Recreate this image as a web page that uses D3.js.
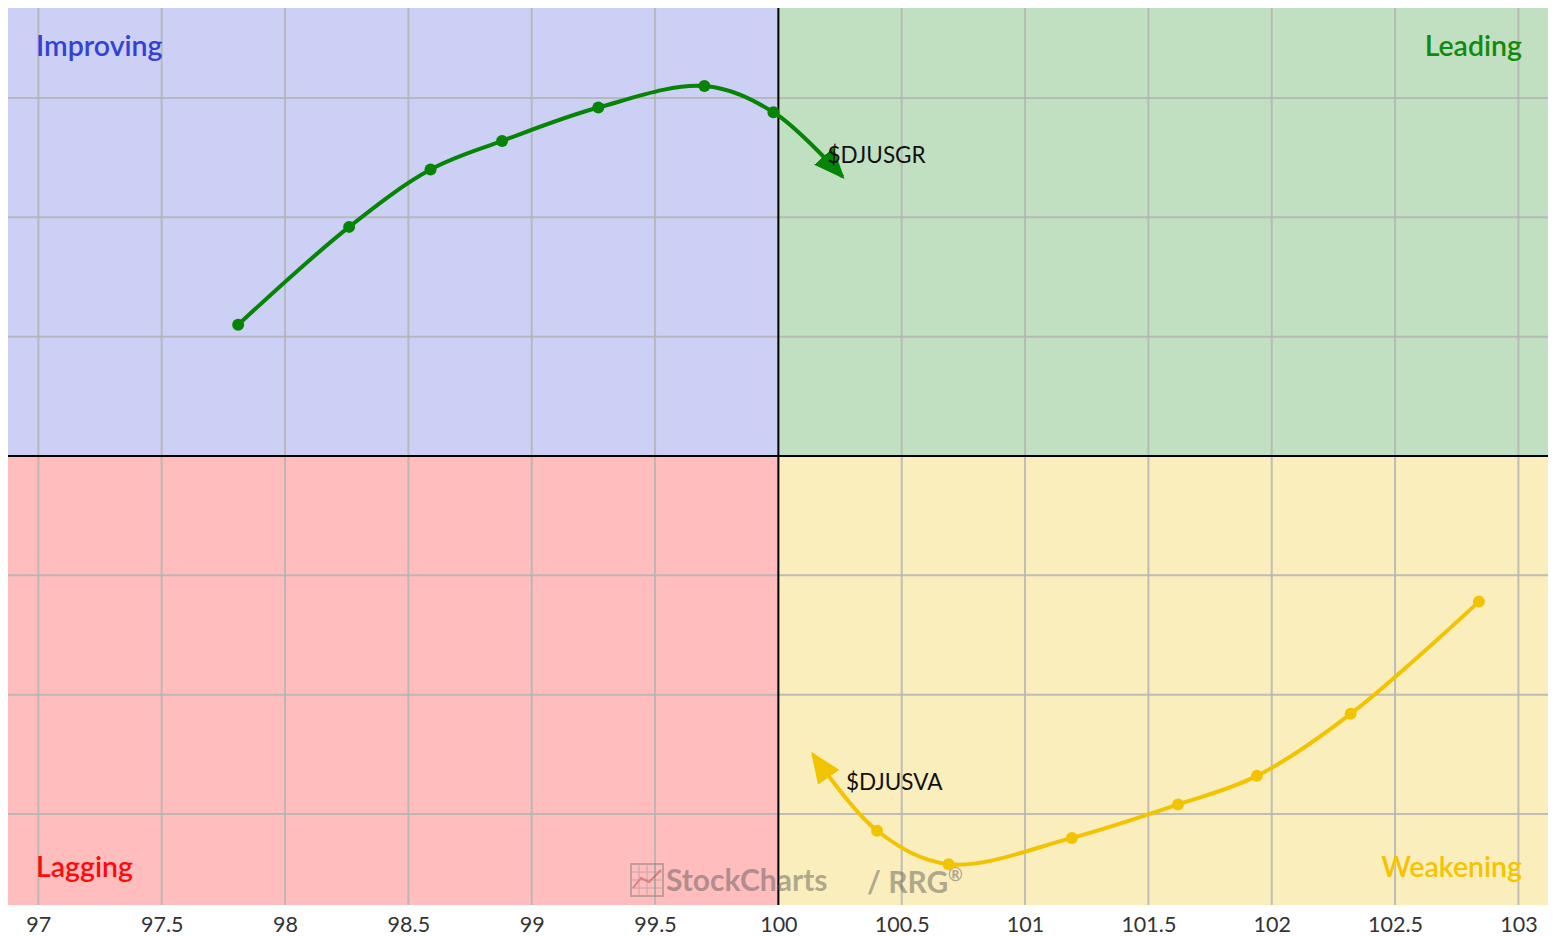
<!DOCTYPE html>
<html>
<head>
<meta charset="utf-8">
<script src="https://cdn.jsdelivr.net/npm/d3@7"></script>
<style>
  html, body { margin: 0; padding: 0; background: #fff; }
  svg { display: block; font-family: Lato, "Open Sans", sans-serif; }
  .tick text { fill: #333; }
</style>
</head>
<body>
<svg id="chart" width="1556" height="936"></svg>
<script>
(function () {
  "use strict";

  // x axis ticks (RS-Ratio)
  const xTicks = [97, 97.5, 98, 98.5, 99, 99.5, 100, 100.5, 101, 101.5, 102, 102.5, 103];
  // y gridlines (RS-Momentum), labels are not shown
  const yTicks = [98.5, 99, 99.5, 100, 100.5, 101, 101.5];

  // $DJUSGR tail, oldest first, last point is the arrow head
  const grRatio = [97.81, 98.26, 98.59, 98.88, 99.27, 99.70, 99.98, 100.26];
  const grMomentum = [100.55, 100.96, 101.20, 101.32, 101.46, 101.55, 101.44, 101.17];

  // $DJUSVA tail
  const vaRatio = [102.84, 102.32, 101.94, 101.62, 101.19, 100.69, 100.40, 100.14];
  const vaMomentum = [99.39, 98.92, 98.66, 98.54, 98.40, 98.29, 98.43, 98.75];

  const quadrantNames = ["Improving", "Leading", "Lagging", "Weakening"];

  const left = 8, right = 1548, top = 8, bottom = 905;

  const svg = d3.select("#chart");

  const x = d3.scaleLinear().domain([96.877, 103.12]).range([left, right]);
  const y = d3.scaleLinear().domain([98.119, 101.877]).range([bottom, top]);

  // quadrants
  const quads = [
    { name: quadrantNames[0], x0: x.domain()[0], x1: 100, y0: 100, y1: y.domain()[1], fill: "#cbd0f4", color: "#3341d6", anchor: "start", lx: 36, ly: 56 },
    { name: quadrantNames[1], x0: 100, x1: x.domain()[1], y0: 100, y1: y.domain()[1], fill: "#c1e0c1", color: "#108a10", anchor: "end", lx: 1522, ly: 56 },
    { name: quadrantNames[2], x0: x.domain()[0], x1: 100, y0: y.domain()[0], y1: 100, fill: "#ffbdbe", color: "#ff0a0a", anchor: "start", lx: 36, ly: 877 },
    { name: quadrantNames[3], x0: 100, x1: x.domain()[1], y0: y.domain()[0], y1: 100, fill: "#fbeebd", color: "#f5c300", anchor: "end", lx: 1522, ly: 877 }
  ];

  svg.selectAll("rect.quad")
    .data(quads)
    .enter()
    .append("rect")
    .attr("class", "quad")
    .attr("x", (d) => x(d.x0))
    .attr("y", (d) => y(d.y1))
    .attr("width", (d) => x(d.x1) - x(d.x0))
    .attr("height", (d) => y(d.y0) - y(d.y1))
    .attr("fill", (d) => d.fill);

  // grid
  const grid = svg.append("g").attr("stroke", "#b4b4b4").attr("stroke-width", 2).attr("stroke-opacity", 0.85);
  grid.selectAll("line.vx")
    .data(xTicks.filter((t) => t !== 100))
    .enter()
    .append("line")
    .attr("x1", (d) => x(d)).attr("x2", (d) => x(d))
    .attr("y1", top).attr("y2", bottom);
  grid.selectAll("line.hy")
    .data(yTicks.filter((t) => t !== 100))
    .enter()
    .append("line")
    .attr("x1", left).attr("x2", right)
    .attr("y1", (d) => y(d)).attr("y2", (d) => y(d));

  // center lines
  svg.append("line")
    .attr("x1", x(100)).attr("x2", x(100)).attr("y1", top).attr("y2", bottom)
    .attr("stroke", "#000").attr("stroke-width", 2);
  svg.append("line")
    .attr("x1", left).attr("x2", right).attr("y1", y(100)).attr("y2", y(100))
    .attr("stroke", "#000").attr("stroke-width", 2);

  // quadrant labels
  svg.selectAll("text.qlabel")
    .data(quads)
    .enter()
    .append("text")
    .attr("class", "qlabel")
    .attr("x", (d) => d.lx)
    .attr("y", (d) => d.ly)
    .attr("text-anchor", (d) => d.anchor)
    .attr("fill", (d) => d.color)
    .attr("font-size", 28.5)
    .attr("font-weight", 600)
    .text((d) => d.name);

  // watermark
  const wm = svg.append("g").attr("opacity", 0.45);
  const ix = 631, iy = 864;
  wm.append("rect").attr("x", ix).attr("y", iy).attr("width", 32).attr("height", 32)
    .attr("fill", "none").attr("stroke", "#777").attr("stroke-width", 2);
  for (let i = 1; i < 4; i++) {
    wm.append("line").attr("x1", ix + i * 8).attr("x2", ix + i * 8).attr("y1", iy).attr("y2", iy + 32)
      .attr("stroke", "#888").attr("stroke-width", 1);
    wm.append("line").attr("x1", ix).attr("x2", ix + 32).attr("y1", iy + i * 8).attr("y2", iy + i * 8)
      .attr("stroke", "#888").attr("stroke-width", 1);
  }
  wm.append("path").attr("d", `M${ix + 2},${iy + 24} L${ix + 10},${iy + 14} L${ix + 18},${iy + 18} L${ix + 30},${iy + 6}`)
    .attr("fill", "none").attr("stroke", "#c03030").attr("stroke-width", 2);
  wm.append("text").attr("x", 666).attr("y", 891)
    .attr("font-size", 30).attr("font-weight", 700).attr("fill", "#555")
    .text("StockCharts");
  wm.append("text").attr("x", 867).attr("y", 893)
    .attr("font-size", 30).attr("font-weight", 700).attr("fill", "#555")
    .text("/ RRG");
  wm.append("text").attr("x", 948).attr("y", 881)
    .attr("font-size", 18).attr("font-weight", 700).attr("fill", "#555")
    .text("®");

  // x axis
  const xAxis = d3.axisBottom(x)
    .tickValues(xTicks)
    .tickSize(0)
    .tickPadding(12)
    .tickFormat((d) => String(d));
  const axisG = svg.append("g")
    .attr("transform", `translate(0,${bottom})`)
    .call(xAxis);
  axisG.select(".domain").remove();
  axisG.selectAll("text").attr("font-size", 21.5).attr("font-family", "Lato, sans-serif").attr("fill", "#333");

  // tails
  const series = [
    { name: "$DJUSGR", xs: grRatio, ys: grMomentum, color: "#058405", dx: -15, dy: -14 },
    { name: "$DJUSVA", xs: vaRatio, ys: vaMomentum, color: "#f2c300", dx: 33, dy: 36 }
  ];

  const defs = svg.append("defs");
  series.forEach((s, i) => {
    defs.append("marker")
      .attr("id", "arrow" + i)
      .attr("viewBox", "0 0 10 10")
      .attr("preserveAspectRatio", "none")
      .attr("refX", 9)
      .attr("refY", 5)
      .attr("markerUnits", "userSpaceOnUse")
      .attr("markerWidth", 31)
      .attr("markerHeight", 26)
      .attr("orient", "auto")
      .append("path")
      .attr("d", "M0,0 L10,5 L0,10 z")
      .attr("fill", s.color);
  });

  const line = d3.line()
    .x((d) => x(d[0]))
    .y((d) => y(d[1]))
    .curve(d3.curveCatmullRom.alpha(0.5));

  series.forEach((s, i) => {
    const pts = s.xs.map((v, k) => [v, s.ys[k]]);
    const g = svg.append("g");
    g.append("path")
      .attr("d", line(pts))
      .attr("fill", "none")
      .attr("stroke", s.color)
      .attr("stroke-width", 4)
      .attr("marker-end", `url(#arrow${i})`);
    g.selectAll("circle")
      .data(pts.slice(0, -1))
      .enter()
      .append("circle")
      .attr("cx", (d) => x(d[0]))
      .attr("cy", (d) => y(d[1]))
      .attr("r", 6)
      .attr("fill", s.color);
    const last = pts[pts.length - 1];
    g.append("text")
      .attr("x", x(last[0]) + s.dx)
      .attr("y", y(last[1]) + s.dy)
      .attr("font-size", 22.5)
      .attr("fill", "#111")
      .text(s.name);
  });
})();
</script>
</body>
</html>
